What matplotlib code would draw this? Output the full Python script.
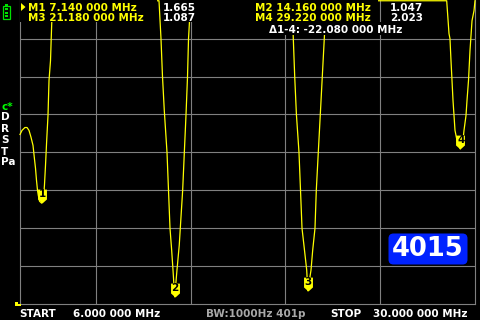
"""NanoVNA SWR screen: 6-30 MHz sweep, four markers on the resonant dips."""

import matplotlib

matplotlib.use("Agg")
import matplotlib.pyplot as plt
import numpy as np
from matplotlib.path import Path
from matplotlib.patches import FancyBboxPatch, Polygon, Rectangle

# trace (MHz, SWR); anything above 3.0 is pinned to the top
FREQ = [
    6.00, 6.105, 6.26, 6.37, 6.475, 6.58, 6.686, 6.754, 6.818, 6.87, 6.923, 6.965,
    7.03, 7.14, 7.24, 7.29, 7.345, 7.408, 7.477, 7.53, 7.609, 7.66, 7.714, 7.9,
    13.0, 13.23, 13.332, 13.437, 13.516, 13.611, 13.754, 13.833, 13.912, 14.0,
    14.07, 14.16, 14.28, 14.40, 14.455, 14.58, 14.668, 14.757, 14.836, 14.889,
    14.97, 15.02, 15.2,
    20.2, 20.347, 20.416, 20.49, 20.58, 20.716, 20.796, 20.875, 21.006, 21.123,
    21.18, 21.35, 21.439, 21.56, 21.629, 21.734, 21.84, 21.945, 22.05, 22.157, 22.3,
    28.4, 28.507, 28.629, 28.68, 28.734, 28.787, 28.84, 28.893, 28.945, 29.05,
    29.22, 29.367, 29.42, 29.525, 29.578, 29.657, 29.736, 29.842, 29.947, 30.0,
]
SWR = [
    2.118, 2.145, 2.164, 2.164, 2.145, 2.10, 2.046, 1.967, 1.895, 1.816, 1.75, 1.717,
    1.678, 1.665, 1.697, 1.783, 1.914, 2.079, 2.243, 2.474, 2.605, 2.80, 3.0, 3.6,
    3.6, 3.15, 3.0, 2.75, 2.5, 2.276, 2.0, 1.75, 1.5, 1.355,
    1.224, 1.047, 1.224, 1.388, 1.5, 1.75, 2.0, 2.25, 2.5, 2.75,
    2.93, 3.0, 3.6,
    3.6, 3.0, 2.75, 2.5, 2.25, 2.0, 1.75, 1.5, 1.355, 1.224,
    1.087, 1.224, 1.355, 1.5, 1.75, 2.0, 2.25, 2.5, 2.75, 3.0, 3.6,
    3.6, 3.0, 2.783, 2.75, 2.605, 2.474, 2.342, 2.243, 2.145, 2.079,
    2.023, 2.079, 2.145, 2.243, 2.342, 2.474, 2.671, 2.868, 2.934, 3.0,
]

MARKER_FREQ = [7.14, 14.16, 21.18, 29.22]
MARKER_SWR = [1.665, 1.047, 1.087, 2.023]
MARKER_ID = ["1", "2", "3", "4"]

GRID_FREQ = [10, 15, 20, 25]
SWR_MIN, SWR_MAX, SWR_STEP = 1.0, 3.0, 0.25
START_MHZ, STOP_MHZ = 6.0, 30.0

YELLOW = "#ffff00"
GREY = "#808080"
FONT = dict(family="DejaVu Sans", fontweight="bold", fontsize=7.5)

fig = plt.figure(figsize=(4.8, 3.2), dpi=100, facecolor="black")

# plot area: x 20..475 px, y 0..304 px
ax = fig.add_axes([20 / 480, 16 / 320, 455 / 480, 304 / 320])
ax.set_facecolor("black")
ax.set_xlim(START_MHZ, STOP_MHZ)
ax.set_ylim(SWR_MIN, SWR_MAX + 0.005)  # keeps the pinned top line on screen
ax.set_xticks([])
ax.set_yticks([])
for sp in ax.spines.values():
    sp.set_color(GREY)
    sp.set_linewidth(0.8)
ax.spines["top"].set_visible(False)
for f in GRID_FREQ:
    ax.axvline(f, color=GREY, lw=0.8, zorder=1)
for s in np.arange(SWR_MIN + SWR_STEP, SWR_MAX, SWR_STEP):
    ax.axhline(s, color=GREY, lw=0.8, zorder=1)

shown = np.minimum(np.array(SWR), SWR_MAX)
ax.plot(FREQ, shown, color=YELLOW, lw=0.9, zorder=3, clip_on=False)

# marker flag: tip at the trace point, body above it
flag = Path([(0, 0), (-0.32, 0.29), (-0.32, 1.0), (0.32, 1.0), (0.32, 0.29), (0, 0)],
            [Path.MOVETO] + [Path.LINETO] * 4 + [Path.CLOSEPOLY])
ax.plot(MARKER_FREQ, MARKER_SWR, ls="none", marker=flag, ms=20,
        mfc=YELLOW, mec=YELLOW, mew=0, zorder=4, clip_on=False)
for f, s, m in zip(MARKER_FREQ, MARKER_SWR, MARKER_ID):
    ax.annotate(m, xy=(f, s), xytext=(0.5, 9), textcoords="offset pixels",
                ha="center", va="center", color="black", family="DejaVu Sans",
                fontweight="bold", fontsize=7.5, zorder=5)

# screen furniture, in pixel coordinates
ov = fig.add_axes([0, 0, 1, 1], zorder=10)
ov.set_xlim(0, 480)
ov.set_ylim(320, 0)
ov.axis("off")

# marker info panel clears the trace behind it
for x0, y0, x1, y1 in [(20, 0, 157, 22), (162, 0, 378, 22), (385, 2, 440, 22), (265, 22, 405, 35)]:
    ov.add_patch(Rectangle((x0, y0), x1 - x0, y1 - y0, fc="black", ec="none"))

ov.add_patch(Polygon([(21, 3), (25.5, 7), (21, 11)], fc=YELLOW, ec="none"))
ov.text(28, 11, "M1 7.140 000 MHz", color=YELLOW, **FONT)
ov.text(28, 21, "M3 21.180 000 MHz", color=YELLOW, **FONT)
ov.text(163, 11, "1.665", color="white", **FONT)
ov.text(163, 21, "1.087", color="white", **FONT)
ov.text(255, 11, "M2 14.160 000 MHz", color=YELLOW, **FONT)
ov.text(255, 21, "M4 29.220 000 MHz", color=YELLOW, **FONT)
ov.text(390, 11, "1.047", color="white", **FONT)
ov.text(390, 21, "2.023", color="white", **FONT)
ov.text(269, 33, "Δ1-4: -22.080 000 MHz", color="white", **FONT)

ov.text(19, 317, "START", color="white", **FONT)
ov.text(73, 317, "6.000 000 MHz", color="white", **FONT)
ov.text(206, 317, "BW:1000Hz 401p", color="#a8a8a8", **FONT)
ov.text(330, 317, "STOP", color="white", **FONT)
ov.text(373, 317, "30.000 000 MHz", color="white", **FONT)

# left status column
ov.text(1, 110, "c*", color="#00ff00", **FONT)
for y, t in zip([120, 132, 143, 155, 165], ["D", "R", "S", "T", "Pa"]):
    ov.text(1, y, t, color="white", **FONT)

# battery
GREEN = "#00e000"
ov.add_patch(Rectangle((4.7, 4), 3, 1.7, fc=GREEN, ec="none"))
ov.add_patch(Rectangle((3.2, 6), 6.3, 12.6, fc="none", ec=GREEN, lw=0.9))
for yb in [8, 11.5, 15]:
    ov.add_patch(Rectangle((4.8, yb), 3.1, 2.2, fc=GREEN, ec="none"))

# reference level tick at SWR 1.0
ov.add_patch(Polygon([(15, 302), (18, 302), (18, 303.5), (20.5, 303.5), (20.5, 305.5), (15, 305.5)],
                     fc=YELLOW, ec="none"))

# timer badge
ov.add_patch(FancyBboxPatch((390, 235), 76, 28, boxstyle="round,pad=1.5,rounding_size=5",
                            fc="#0022ff", ec="none"))
ov.text(428, 249.5, "4015", color="white", ha="center", va="center",
        family="DejaVu Sans", fontweight="bold", fontsize=18.5)

fig.savefig("out.png", dpi=100, facecolor="black")
